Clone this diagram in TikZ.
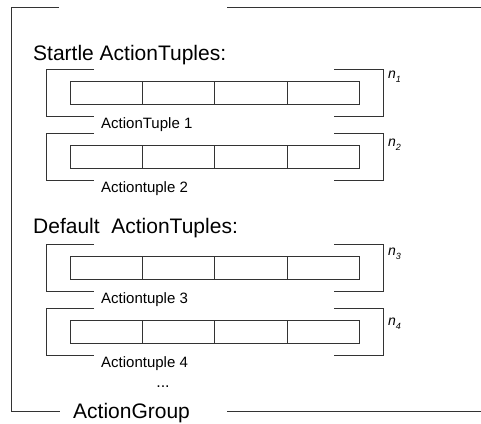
\documentclass[tikz,border=0pt]{standalone}
\usepackage{fontspec}
\setmainfont{Liberation Sans}
\begin{document}
\begin{tikzpicture}[x=1pt,y=-1pt,
  frame/.style={draw=black!80,line width=0.8pt},
  heading/.style={font=\fontsize{21}{25}\selectfont, anchor=base west, inner sep=0pt},
  tuplelabel/.style={font=\fontsize{15}{18}\selectfont, anchor=base west, inner sep=0pt},
  mult/.style={font=\fontsize{14}{16}\selectfont\itshape, anchor=west, inner sep=0pt}]
\useasboundingbox (0,0) rectangle (481,423);

% outer ActionGroup frame, open at the top and around the title
\draw[frame] (59,7) -- (11,7) -- (11,411) -- (60,411);
\draw[frame] (227,7) -- (481,7);
\draw[frame] (227,411) -- (481,411);
\node[heading] (group) at (73,418) {ActionGroup};

\node[heading] (startle) at (33,60) {Startle ActionTuples:};
\node[heading] (default) at (33,233) {Default\ \ ActionTuples:};

% one bracketed tuple of four cells per entry: top / label / index / y of index
\foreach \t/\lab/\i/\ny in {69/ActionTuple 1/1/77, 133/Actiontuple 2/2/145,
                            244/Actiontuple 3/3/254, 308/Actiontuple 4/4/324} {
  \draw[frame] (94,\t) -- (46,\t) -- (46,{\t+47}) -- (94,{\t+47});
  \draw[frame] (334,\t) -- (383,\t) -- (383,{\t+47}) -- (334,{\t+47});
  \draw[frame] (70,{\t+12}) rectangle (359,{\t+35});
  \foreach \x in {142,214,287}
    \draw[frame] (\x,{\t+12}) -- (\x,{\t+35});
  \node[tuplelabel] (label\i) at (101,{\t+59}) {\lab};
  \node[mult] (count\i) at (388,\ny) {n\raisebox{-0.55ex}{\fontsize{9}{10}\selectfont\i}};
}

\node[font=\fontsize{16}{18}\selectfont, anchor=base, inner sep=0pt] (more) at (163,387) {...};
\end{tikzpicture}
\end{document}
